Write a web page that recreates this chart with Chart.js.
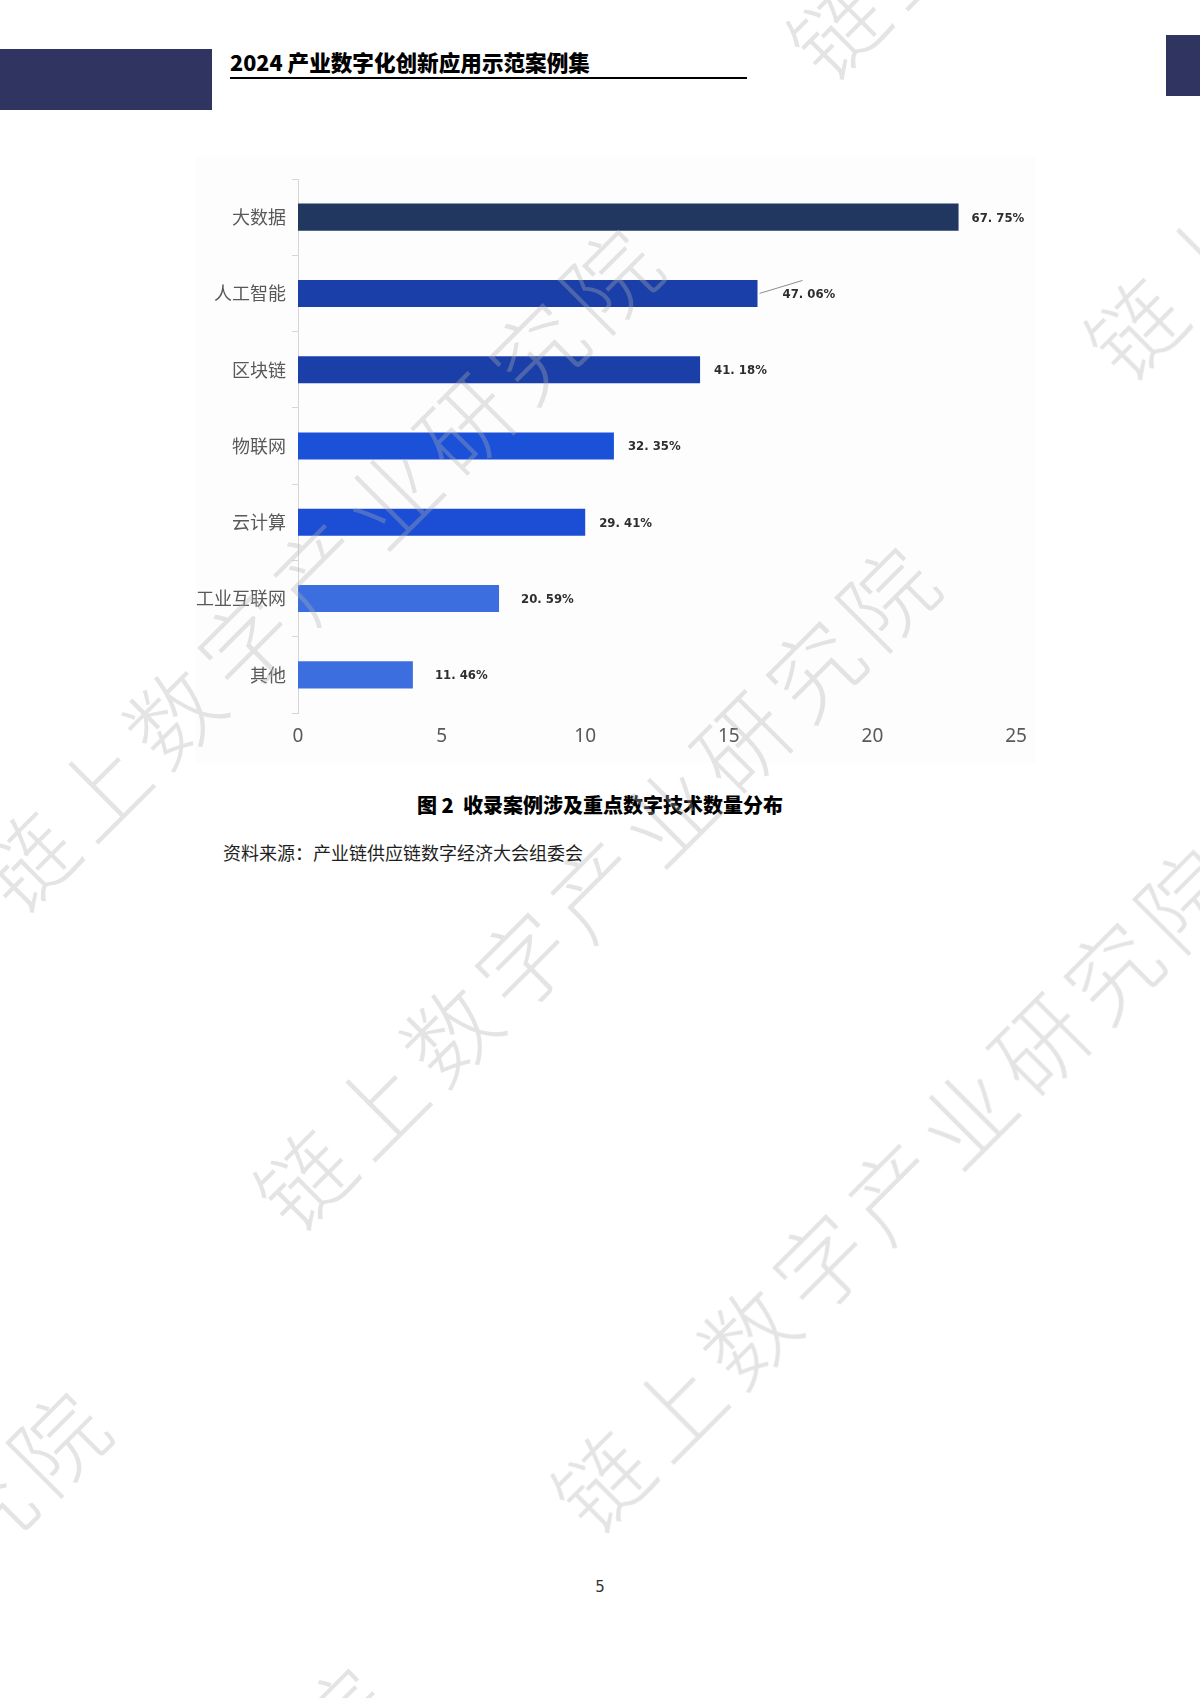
<!DOCTYPE html>
<html lang="zh-CN">
<head>
<meta charset="utf-8">
<script src="https://cdn.jsdelivr.net/npm/chart.js@4.4.1/dist/chart.umd.min.js"></script>
<style>
  html, body { margin: 0; padding: 0; background: #ffffff; }
  body { width: 1200px; height: 1698px; position: relative; overflow: hidden; font-family: "Noto Sans CJK SC", sans-serif; }
  .band-left { position: absolute; left: 0; top: 49px; width: 212px; height: 61px; background: #2f3461; }
  .band-right { position: absolute; left: 1166px; top: 35px; width: 34px; height: 61px; background: #2f3461; }
  .doc-title { position: absolute; left: 230px; top: 49px; font-size: 21.6px; font-weight: 900; color: #000; letter-spacing: 0; line-height: 26px; white-space: nowrap; }
  .doc-rule { position: absolute; left: 230px; top: 77px; width: 517px; height: 2px; background: #000; }
  .chart-bg { position: absolute; left: 195px; top: 157px; width: 840px; height: 606px; background: #fdfdfd; }
  #wrap { position: absolute; left: 180px; top: 150px; width: 880px; height: 620px; }
  .caption { position: absolute; left: 0; width: 1200px; top: 792px; text-align: center; font-size: 20px; font-weight: 900; color: #000; line-height: 26px; }
  .source { position: absolute; left: 223px; top: 840px; font-size: 18px; color: #1f1f1f; line-height: 24px; white-space: nowrap; }
  .page-no { position: absolute; left: 0; width: 1200px; top: 1578px; text-align: center; font-size: 15px; color: #333; font-family: "DejaVu Sans", sans-serif; }
  .wm { position: absolute; font-family: "Noto Sans CJK SC", serif; font-weight: 300; font-size: 92px; line-height: 92px; height: 92px;
        color: rgba(175,175,175,0.34); letter-spacing: 11px; white-space: nowrap; transform-origin: 0 50%; transform: rotate(-45deg); pointer-events: none; }
</style>
</head>
<body>
<div class="band-left"></div>
<div class="band-right"></div>
<div class="doc-title">2024 产业数字化创新应用示范案例集</div>
<div class="doc-rule"></div>
<div class="chart-bg"></div>
<div id="wrap"><canvas id="chart" width="880" height="620"></canvas></div>
<div class="caption">图 2&nbsp;&nbsp;收录案例涉及重点数字技术数量分布</div>
<div class="source">资料来源：产业链供应链数字经济大会组委会</div>
<div class="page-no">5</div>
<div id="wms"></div>
<script>
// ---- data ----
const categories = ['大数据', '人工智能', '区块链', '物联网', '云计算', '工业互联网', '其他'];
const counts = [23, 16, 14, 11, 10, 7, 4];
const shareLabels = ['67. 75%', '47. 06%', '41. 18%', '32. 35%', '29. 41%', '20. 59%', '11. 46%'];
const barColors = ['#21375f', '#1b3fa8', '#1b3fa8', '#1b50d8', '#1b4ed5', '#3c6ee0', '#3c6ee0'];
const xTickValues = [0, 5, 10, 15, 20, 25];
const watermarkText = '链上数字产业研究院';

// ---- watermarks ----
const wmAnchors = [[25, 858], [302, 1176], [600, 1478], [835, 25], [1133, 325], [-527, 2021], [-245, 2297]];
const wmBox = document.getElementById('wms');
wmAnchors.forEach(function (p) {
  const d = document.createElement('div');
  d.className = 'wm';
  d.textContent = watermarkText;
  const fs = 92, h = fs / 2 * Math.SQRT1_2;
  d.style.left = (p[0] - h) + 'px';
  d.style.top = (p[1] + h - fs / 2) + 'px';
  wmBox.appendChild(d);
});

// ---- value label plugin ----
const valueLabels = {
  id: 'valueLabels',
  afterDatasetsDraw(chart, args, opts) {
    const ctx = chart.ctx;
    const meta = chart.getDatasetMeta(0);
    ctx.save();
    ctx.font = 'bold 13px "DejaVu Sans Condensed", "Liberation Sans Narrow", sans-serif';
    ctx.fillStyle = '#2e2e2e';
    ctx.textBaseline = 'middle';
    ctx.textAlign = 'left';
    meta.data.forEach(function (el, i) {
      let gap = opts.gap + (opts.extraGap[i] || 0);
      if (i === opts.leaderIndex) {
        ctx.strokeStyle = '#8c8c8c';
        ctx.lineWidth = 1;
        ctx.beginPath();
        ctx.moveTo(el.x + 2, el.y);
        ctx.lineTo(el.x + 45, el.y - 13);
        ctx.stroke();
        gap = opts.leaderGap;
      }
      ctx.fillText(opts.labels[i], el.x + gap, el.y + 1);
    });
    ctx.restore();
  }
};

new Chart(document.getElementById('chart'), {
  type: 'bar',
  data: {
    labels: categories,
    datasets: [{
      data: counts,
      backgroundColor: barColors,
      borderWidth: 0,
      barPercentage: 0.355,
      categoryPercentage: 1
    }]
  },
  options: {
    indexAxis: 'y',
    responsive: false,
    animation: false,
    devicePixelRatio: 1,
    layout: { padding: { top: 29, right: 44, left: 0, bottom: 0 } },
    plugins: {
      legend: { display: false },
      tooltip: { enabled: false },
      valueLabels: { labels: shareLabels, gap: 14, leaderIndex: 1, leaderGap: 25, extraGap: { 0: -1, 5: 8, 6: 8 } }
    },
    scales: {
      x: {
        min: 0,
        max: 25,
        afterBuildTicks(scale) { scale.ticks = xTickValues.map(v => ({ value: v })); },
        afterFit(scale) { scale.height = 57; },
        grid: { display: false },
        border: { display: false },
        ticks: { color: '#595959', font: { family: '"Noto Sans", "DejaVu Sans", sans-serif', size: 19 }, padding: 4 }
      },
      y: {
        afterFit(scale) { scale.width = 118; },
        grid: { drawOnChartArea: false, drawTicks: true, tickLength: 6, color: '#d6d6d6', offset: true },
        border: { display: true, color: '#d6d6d6', width: 1 },
        ticks: { color: '#595959', font: { family: '"Noto Sans CJK SC", sans-serif', size: 18 }, padding: 6 }
      }
    }
  },
  plugins: [valueLabels]
});
</script>
</body>
</html>
